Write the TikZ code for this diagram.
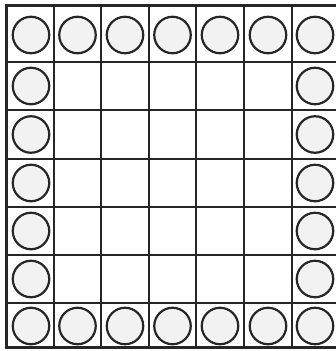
\documentclass[tikz,border=0pt]{standalone}
\begin{document}
\begin{tikzpicture}[x=1pt,y=-1pt,
  gridline/.style={line width=2pt, draw=black!85},
  outerline/.style={line width=3pt, draw=black!85},
  disc/.style={circle, draw=black!85, line width=2.2pt, fill=gray!10, minimum size=36.5pt, inner sep=0pt}]
\useasboundingbox (0,0) rectangle (336,351);
\begin{scope}
\clip (0,0) rectangle (336,351);
% vertical lines
\foreach \x in {54,101,149,196,244,292} \draw[gridline] (\x,5) -- (\x,347);
% horizontal lines
\foreach \y in {62,110,159,207,255,303} \draw[gridline] (6,\y) -- (340,\y);
\draw[outerline] (6,5) rectangle (340,347);
\end{scope}
% top row and bottom row
\foreach \x [count=\i] in {31,77.5,125,172.5,220,268,315} {
  \node[disc] (t\i) at (\x,35) {};
  \node[disc] (b\i) at (\x,326) {};
}
% side columns
\foreach \y [count=\j] in {86,134.5,183,231,279} {
  \node[disc] (l\j) at (31,\y) {};
  \node[disc] (r\j) at (315,\y) {};
}
\end{tikzpicture}
\end{document}
